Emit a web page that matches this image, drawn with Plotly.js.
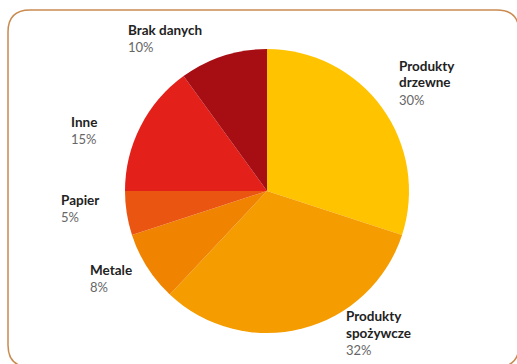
<!DOCTYPE html>
<html>
<head>
<meta charset="utf-8">
<script src="https://cdn.plot.ly/plotly-3.0.1.min.js"></script>
<style>
  html, body { margin: 0; padding: 0; background: #ffffff; }
  #chart { width: 517px; height: 364px; }
</style>
</head>
<body>
<div id="chart"></div>
<script>
// ---- data ----
var categories = ['Produkty<br>drzewne', 'Produkty<br>spożywcze', 'Metale', 'Papier', 'Inne', 'Brak danych'];
var values = [30, 32, 8, 5, 15, 10];
var percentLabels = ['30%', '32%', '8%', '5%', '15%', '10%'];

// ---- styles / positions (pixels, left/top of each label block) ----
var colors = ['#FFC300', '#F59C00', '#F08400', '#EA5512', '#E3201A', '#A60E14'];
var labelPos = [[398, 56.5], [345, 307], [89, 261], [60, 191], [70, 113], [127, 21]];
var W = 517, H = 364;
var nameLineGap = 17;
var pctGap = 17;

function px(x) { return x / W; }
function py(y) { return 1 - y / H; }

var annotations = [];
categories.forEach(function (cat, i) {
  var lines = cat.split('<br>');
  var x0 = labelPos[i][0], y0 = labelPos[i][1];
  lines.forEach(function (ln, k) {
    annotations.push({
      xref: 'paper', yref: 'paper', x: px(x0), y: py(y0 + k * nameLineGap),
      xanchor: 'left', yanchor: 'top', showarrow: false, borderpad: 0,
      text: '<b>' + ln + '</b>',
      font: { family: 'Lato, "Open Sans", sans-serif', size: 13.5, color: '#222222' }
    });
  });
  annotations.push({
    xref: 'paper', yref: 'paper', x: px(x0), y: py(y0 + (lines.length - 1) * nameLineGap + pctGap),
    xanchor: 'left', yanchor: 'top', showarrow: false, borderpad: 0,
    text: percentLabels[i],
    font: { family: 'Lato, "Open Sans", sans-serif', size: 13, color: '#666666' }
  });
});

// rounded border
var L = 8, T = 10, R = 519, B = 367, r = 22;
var path = 'M' + px(L + r) + ',' + py(T) +
  ' L' + px(R - r) + ',' + py(T) +
  ' Q' + px(R) + ',' + py(T) + ' ' + px(R) + ',' + py(T + r) +
  ' L' + px(R) + ',' + py(B - r) +
  ' Q' + px(R) + ',' + py(B) + ' ' + px(R - r) + ',' + py(B) +
  ' L' + px(L + r) + ',' + py(B) +
  ' Q' + px(L) + ',' + py(B) + ' ' + px(L) + ',' + py(B - r) +
  ' L' + px(L) + ',' + py(T + r) +
  ' Q' + px(L) + ',' + py(T) + ' ' + px(L + r) + ',' + py(T) + ' Z';

var cx = 267, cy = 191, rad = 142;

var trace = {
  type: 'pie',
  labels: categories,
  values: values,
  sort: false,
  direction: 'clockwise',
  rotation: 0,
  textinfo: 'none',
  hoverinfo: 'label+percent',
  marker: { colors: colors, line: { width: 0 } },
  domain: { x: [px(cx - rad), px(cx + rad)], y: [py(cy + rad), py(cy - rad)] },
  showlegend: false
};

var layout = {
  width: W, height: H,
  margin: { l: 0, r: 0, t: 0, b: 0 },
  paper_bgcolor: '#ffffff',
  showlegend: false,
  annotations: annotations,
  shapes: [{
    type: 'path', xref: 'paper', yref: 'paper', path: path,
    line: { color: '#C98A50', width: 1.5 }, fillcolor: 'rgba(0,0,0,0)', layer: 'below'
  }]
};

Plotly.newPlot('chart', [trace], layout, { displayModeBar: false, staticPlot: true });
</script>
</body>
</html>
